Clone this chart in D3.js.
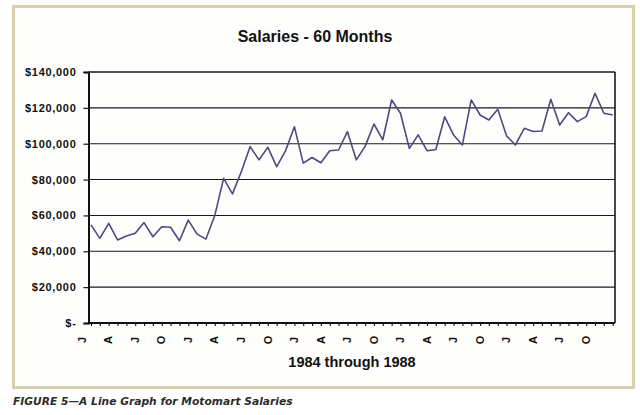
<!DOCTYPE html>
<html>
<head>
<meta charset="utf-8">
<script src="https://cdn.jsdelivr.net/npm/d3@7"></script>
<style>
  body { margin: 0; background: #ffffff; }
</style>
</head>
<body>
<div id="chart"></div>
<script>
// monthly salaries, Jan 1984 .. Dec 1988
var salaries = [
  54700, 47200, 55600, 46300, 48500, 50000, 56000, 48100, 53700, 53400, 45900, 57400,
  49600, 46800, 60000, 80700, 72000, 84400, 98400, 91000, 98000, 87200, 96000, 109500,
  89200, 92300, 89400, 96100, 96500, 106700, 91000, 98500, 111000, 102200, 124400, 117000,
  97400, 104900, 96100, 96800, 115000, 104900, 99300, 124400, 116000, 113200, 119200, 104300,
  99300, 108600, 106800, 107100, 124800, 110400, 117300, 112300, 115100, 128100, 117000, 116000
];

// quarter labels every 3 months
var monthLabels = ["J", "A", "J", "O", "J", "A", "J", "O", "J", "A",
                   "J", "O", "J", "A", "J", "O", "J", "A", "J", "O"];

var yTicks = [0, 20000, 40000, 60000, 80000, 100000, 120000, 140000];

var width = 640, height = 415;
var plot = {left: 88.5, right: 615, top: 72, bottom: 323};

var svg = d3.select("#chart")
  .append("svg")
    .attr("width", width)
    .attr("height", height);

// frame
svg.append("rect")
  .attr("x", 13.5)
  .attr("y", 6.5)
  .attr("width", 620)
  .attr("height", 381)
  .attr("fill", "#fefefd")
  .attr("stroke", "#d8cfae")
  .attr("stroke-width", 3);

var x = d3.scaleLinear()
  .domain([0, salaries.length - 1])
  .range([91, 612.7]);

var y = d3.scaleLinear()
  .domain([0, 140000])
  .range([plot.bottom, plot.top]);

// gridlines
svg.append("g")
  .selectAll("line")
  .data(yTicks.slice(1))
  .enter().append("line")
    .attr("x1", plot.left)
    .attr("x2", plot.right)
    .attr("y1", function(d) { return y(d); })
    .attr("y2", function(d) { return y(d); })
    .attr("stroke", "#1a1a1a")
    .attr("stroke-width", function(d) { return d === 140000 ? 1.6 : 1.1; });

// right border
svg.append("line")
  .attr("x1", plot.right).attr("x2", plot.right)
  .attr("y1", plot.top).attr("y2", plot.bottom)
  .attr("stroke", "#1a1a1a")
  .attr("stroke-width", 1.6);

// Y axis
var yAxis = svg.append("g")
  .attr("transform", "translate(" + plot.left + ",0)")
  .call(d3.axisLeft(y)
    .tickValues(yTicks)
    .tickSize(5)
    .tickPadding(7)
    .tickFormat(function(d) { return d === 0 ? "$-" : "$" + d3.format(",")(d); }));
yAxis.select(".domain").attr("stroke", "#111").attr("stroke-width", 2);
yAxis.selectAll(".tick line").attr("stroke", "#111").attr("stroke-width", 1.2);
yAxis.selectAll("text")
  .attr("font-family", "'Liberation Sans', Arial, sans-serif")
  .attr("font-weight", "bold")
  .attr("font-size", "11px")
  .attr("letter-spacing", "0.7px")
  .attr("fill", "#111");

// X axis with a tick for each month
var xAxis = svg.append("g")
  .attr("transform", "translate(0," + plot.bottom + ")")
  .call(d3.axisBottom(x)
    .tickValues(d3.range(salaries.length))
    .tickSize(3)
    .tickSizeOuter(0)
    .tickFormat(""));
xAxis.select(".domain")
  .attr("d", "M" + plot.left + ",0H" + plot.right)
  .attr("stroke", "#111").attr("stroke-width", 2);
xAxis.selectAll(".tick line").attr("stroke", "#111").attr("stroke-width", 1.1);

// rotated month letters
svg.append("g")
  .selectAll("text")
  .data(monthLabels)
  .enter().append("text")
    .attr("transform", function(d, i) {
      return "translate(" + (x(i * 3) - 9) + ",340) rotate(-90)";
    })
    .attr("text-anchor", "middle")
    .attr("dy", "0.35em")
    .attr("font-family", "'Liberation Sans', Arial, sans-serif")
    .attr("font-weight", "bold")
    .attr("font-size", "11px")
    .attr("fill", "#111")
    .text(function(d) { return d; });

// the line
svg.append("path")
  .datum(salaries)
  .attr("fill", "none")
  .attr("stroke", "#54467f")
  .attr("stroke-width", 1.6)
  .attr("stroke-linejoin", "round")
  .attr("d", d3.line()
    .x(function(d, i) { return x(i); })
    .y(function(d) { return y(d); }));

// titles
svg.append("text")
  .attr("x", 315)
  .attr("y", 42)
  .attr("text-anchor", "middle")
  .attr("font-family", "'Liberation Sans', Arial, sans-serif")
  .attr("font-weight", "bold")
  .attr("font-size", "16px")
  .attr("fill", "#111")
  .text("Salaries - 60 Months");

svg.append("text")
  .attr("x", 352)
  .attr("y", 367)
  .attr("text-anchor", "middle")
  .attr("font-family", "'Liberation Sans', Arial, sans-serif")
  .attr("font-weight", "bold")
  .attr("font-size", "14.5px")
  .attr("fill", "#111")
  .text("1984 through 1988");

svg.append("text")
  .attr("x", 13)
  .attr("y", 405)
  .attr("font-family", "'DejaVu Sans', Verdana, sans-serif")
  .attr("font-weight", "bold")
  .attr("font-style", "italic")
  .attr("font-size", "10.7px")
  .attr("fill", "#2b2b2b")
  .text("FIGURE 5\u2014A Line Graph for Motomart Salaries");
</script>
</body>
</html>
